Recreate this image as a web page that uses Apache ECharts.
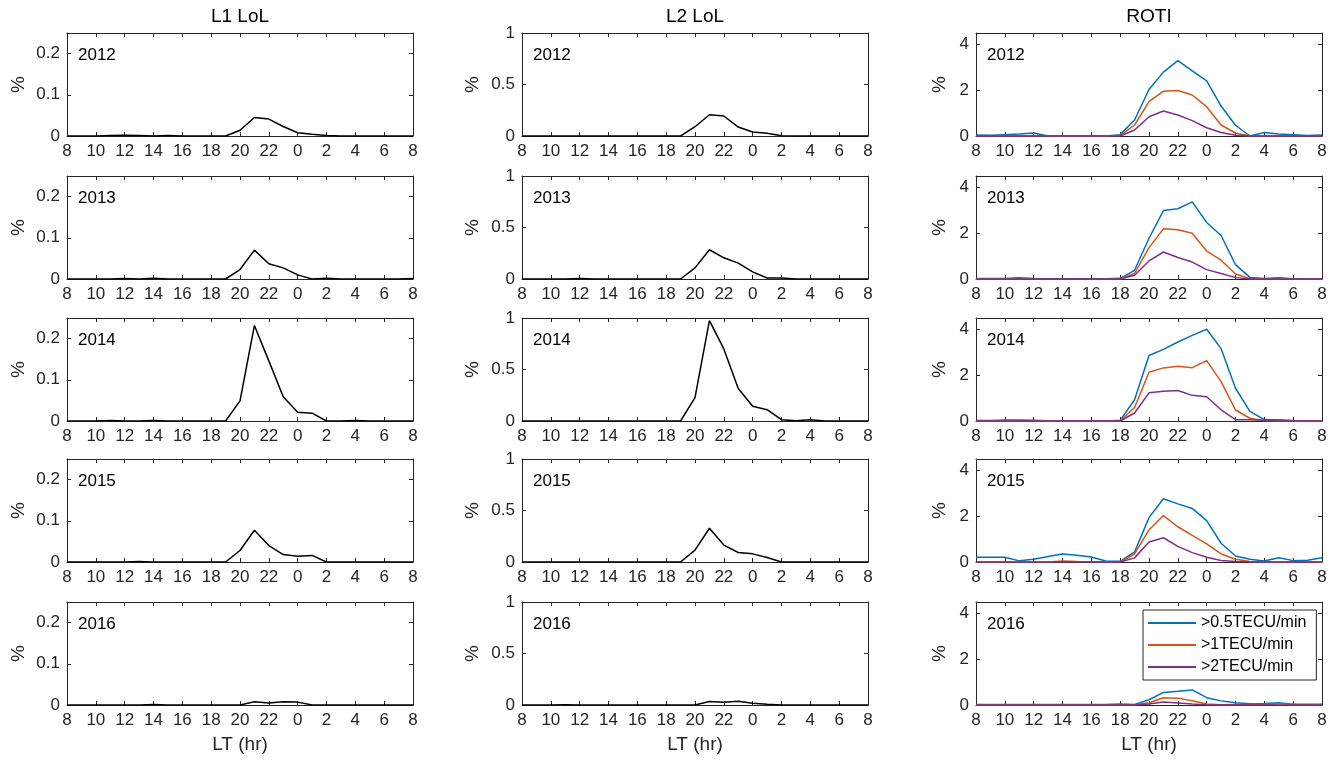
<!DOCTYPE html>
<html>
<head>
<meta charset="utf-8">
<script src="https://cdn.jsdelivr.net/npm/echarts@6/dist/echarts.min.js"></script>
<style>
  html, body { margin: 0; padding: 0; background: #fff; }
  #chart { width: 1336px; height: 762px; }
</style>
</head>
<body>
<div id="chart"></div>
<script>
// local time, 8 LT to 8 LT next day (hour 24 = 0 LT)
var hours = [8,9,10,11,12,13,14,15,16,17,18,19,20,21,22,23,24,25,26,27,28,29,30,31,32];
var years = ['2012', '2013', '2014', '2015', '2016'];
var colTitles = ['L1 LoL', 'L2 LoL', 'ROTI'];
var legendNames = ['>0.5TECU/min', '>1TECU/min', '>2TECU/min'];

// L1 LoL occurrence (%), one row per year
var l1LoL = [
  [0,0,0,0.001,0.002,0.001,0,0.001,0,0,0,0,0.014,0.045,0.041,0.023,0.008,0.004,0.001,0,0,0,0,0,0],
  [0,0,0,0,0.001,0,0.002,0,0,0,0,0,0.023,0.07,0.037,0.027,0.01,0,0.002,0,0,0,0,0,0.001],
  [0,0,0,0.001,0,0,0.001,0,0,0,0,0,0.049,0.232,0.146,0.059,0.021,0.019,0,0,0.001,0,0,0,0],
  [0,0,0,0,0,0.001,0,0,0,0,0,0,0.028,0.077,0.04,0.018,0.014,0.016,0,0,0,0,0,0,0],
  [0,0,0,0,0,0,0.001,0,0,0,0,0,0,0.008,0.005,0.008,0.007,0,0,0,0,0,0,0,0]
];
// L2 LoL occurrence (%)
var l2LoL = [
  [0,0,0,0,0,0,0,0,0,0,0,0,0.09,0.206,0.194,0.087,0.039,0.026,0.003,0,0,0,0,0,0],
  [0,0,0,0,0.005,0,0,0,0,0,0,0,0.108,0.284,0.206,0.154,0.069,0.01,0.01,0,0,0,0,0,0],
  [0,0,0,0,0,0,0,0,0,0,0,0,0.227,0.974,0.70,0.315,0.143,0.11,0.013,0.003,0.013,0,0,0,0],
  [0,0,0,0,0,0,0,0,0,0,0,0,0.115,0.328,0.164,0.092,0.079,0.043,0,0,0,0,0,0,0],
  [0,0,0,0.003,0,0,0,0,0,0,0,0,0,0.033,0.026,0.036,0.016,0.007,0,0,0,0,0,0,0]
];
// ROTI > 0.5 TECU/min (%)
var rotiHalf = [
  [0.04,0.03,0.06,0.09,0.13,0,0,0,0,0,0.06,0.7,2.03,2.79,3.29,2.85,2.41,1.31,0.47,0,0.15,0.09,0.06,0.02,0.04],
  [0.02,0.02,0.02,0.05,0.02,0.01,0.01,0.01,0.01,0.01,0.03,0.38,1.78,2.99,3.07,3.37,2.47,1.9,0.63,0.07,0.02,0.06,0.01,0,0],
  [0.02,0.02,0.04,0.04,0.03,0.01,0,0,0,0,0.03,0.93,2.86,3.13,3.45,3.74,4.01,3.16,1.43,0.42,0.06,0.05,0.02,0,0],
  [0.21,0.21,0.21,0.05,0.12,0.24,0.35,0.29,0.22,0.04,0.03,0.44,1.94,2.76,2.54,2.34,1.81,0.82,0.26,0.12,0.04,0.19,0.06,0.08,0.19],
  [0.02,0.02,0.02,0.02,0.02,0.02,0.02,0.02,0.02,0.02,0.04,0.02,0.23,0.55,0.6,0.66,0.32,0.18,0.1,0.06,0.07,0.1,0.03,0.03,0.03]
];
// ROTI > 1 TECU/min (%)
var rotiOne = [
  [0,0,0,0,0,0,0,0,0,0,0.02,0.48,1.5,1.96,1.99,1.79,1.28,0.48,0.13,0,0,0,0,0,0],
  [0,0,0,0,0,0,0,0,0,0,0.01,0.24,1.37,2.19,2.15,2.0,1.22,0.82,0.22,0.01,0,0,0,0,0],
  [0,0,0,0,0,0,0,0,0,0,0,0.59,2.13,2.32,2.39,2.33,2.64,1.72,0.48,0.12,0.01,0,0,0,0],
  [0,0,0,0,0,0,0.04,0.02,0.01,0,0,0.35,1.4,2.03,1.54,1.16,0.79,0.35,0.12,0.02,0,0,0,0,0],
  [0,0,0,0,0,0,0,0,0,0,0,0,0.1,0.32,0.3,0.19,0.04,0.01,0.02,0.02,0.02,0.06,0.01,0,0]
];
// ROTI > 2 TECU/min (%)
var rotiTwo = [
  [0,0,0,0,0,0,0,0,0,0,0,0.26,0.84,1.09,0.92,0.67,0.36,0.15,0.03,0,0,0,0,0,0],
  [0,0,0,0,0,0,0,0,0,0,0,0.16,0.79,1.18,0.94,0.74,0.41,0.24,0.06,0,0,0,0,0,0],
  [0,0,0,0,0,0,0,0,0,0,0,0.35,1.23,1.30,1.33,1.12,1.06,0.49,0.06,0.05,0.03,0,0,0,0],
  [0,0,0,0,0,0,0,0,0,0,0,0.18,0.87,1.06,0.68,0.41,0.21,0.07,0.02,0,0,0,0,0,0],
  [0,0,0,0,0,0,0,0,0,0,0,0,0.04,0.13,0.09,0.04,0.01,0,0,0,0,0,0,0,0]
];

var FONT = 'Liberation Sans, Arial, Helvetica, sans-serif';
var AXIS = '#262626';
var colLeft = [67, 522, 976];
var plotW = 346;
var rowTop = [33, 176, 318, 459, 602];
var plotH = 103;
var yMax = [0.25, 1, 4.5];
var yStep = [0.1, 0.5, 2];
var yNameGap = [39, 40, 27];
var lineColors = ['#0072BD', '#D95319', '#7E2F8E'];

function pairs(vals) {
  return hours.map(function (h, k) { return [h, vals[k]]; });
}

var grids = [], xAxes = [], yAxes = [], series = [], graphics = [];

for (var c = 0; c < 3; c++) {
  graphics.push({
    type: 'text', x: colLeft[c] + plotW / 2, y: 17,
    style: { text: colTitles[c], font: '19px ' + FONT, fill: '#000', align: 'center', verticalAlign: 'middle' }
  });
  for (var r = 0; r < 5; r++) {
    var g = grids.length;
    grids.push({ left: colLeft[c], top: rowTop[r], width: plotW, height: plotH });
    var xBase = {
      gridIndex: g, type: 'value', min: 8, max: 32, interval: 2,
      axisLine: { show: true, onZero: false, lineStyle: { color: AXIS, width: 1 } },
      axisTick: { show: true, inside: true, length: 4, lineStyle: { color: AXIS } },
      splitLine: { show: false }
    };
    xAxes.push(Object.assign({}, xBase, {
      position: 'bottom',
      name: r === 4 ? 'LT (hr)' : '', nameLocation: 'middle', nameGap: 30,
      nameTextStyle: { fontFamily: FONT, fontSize: 19, color: AXIS },
      axisLabel: {
        show: true, margin: 7, fontFamily: FONT, fontSize: 17, color: AXIS,
        formatter: function (v) { return String(v % 24); }
      }
    }));
    xAxes.push(Object.assign({}, xBase, { position: 'top', axisLabel: { show: false } }));

    var yBase = {
      gridIndex: g, type: 'value', min: 0, max: yMax[c], interval: yStep[c],
      axisLine: { show: true, onZero: false, lineStyle: { color: AXIS, width: 1 } },
      axisTick: { show: true, inside: true, length: 4, lineStyle: { color: AXIS } },
      splitLine: { show: false }
    };
    yAxes.push(Object.assign({}, yBase, {
      position: 'left',
      name: '%', nameLocation: 'middle', nameGap: yNameGap[c], nameRotate: 90,
      nameTextStyle: { fontFamily: FONT, fontSize: 19, color: AXIS },
      axisLabel: { show: true, margin: 7, fontFamily: FONT, fontSize: 17, color: AXIS, showMaxLabel: c === 1 }
    }));
    yAxes.push(Object.assign({}, yBase, { position: 'right', axisLabel: { show: false } }));

    graphics.push({
      type: 'text', x: colLeft[c] + 11, y: rowTop[r] + 22,
      style: { text: years[r], font: '17px ' + FONT, fill: '#000', align: 'left', verticalAlign: 'middle' }
    });

    var common = { type: 'line', xAxisIndex: 2 * g, yAxisIndex: 2 * g, showSymbol: false, symbol: 'none', silent: true, animation: false };
    if (c === 0) {
      series.push(Object.assign({}, common, { data: pairs(l1LoL[r]), lineStyle: { color: '#000', width: 1.5 } }));
    } else if (c === 1) {
      series.push(Object.assign({}, common, { data: pairs(l2LoL[r]), lineStyle: { color: '#000', width: 1.5 } }));
    } else {
      var sets = [rotiHalf[r], rotiOne[r], rotiTwo[r]];
      for (var s = 0; s < 3; s++) {
        series.push(Object.assign({}, common, {
          name: legendNames[s], data: pairs(sets[s]),
          itemStyle: { color: lineColors[s] },
          lineStyle: { color: lineColors[s], width: 1.5 }
        }));
      }
    }
  }
}

var myChart = echarts.init(document.getElementById('chart'), null, { renderer: 'canvas' });
var option = {
  backgroundColor: '#fff',
  animation: false,
  grid: grids,
  xAxis: xAxes,
  yAxis: yAxes,
  legend: {
    data: legendNames,
    orient: 'vertical',
    left: 1143, top: 610,
    padding: [5, 10, 5, 5],
    itemGap: 6,
    itemWidth: 48, itemHeight: 2,
    icon: 'rect',
    borderColor: AXIS, borderWidth: 1,
    backgroundColor: '#fff',
    selectedMode: false,
    textStyle: { fontFamily: FONT, fontSize: 16, color: '#000' }
  },
  graphic: graphics,
  series: series
};
myChart.setOption(option);
</script>
</body>
</html>
